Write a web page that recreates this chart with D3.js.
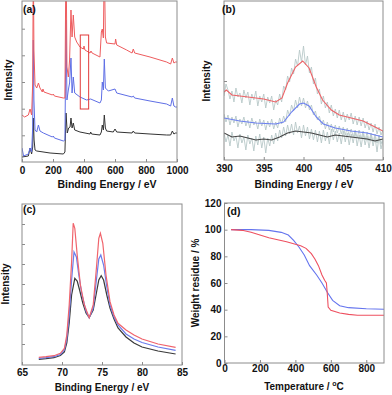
<!DOCTYPE html>
<html>
<head>
<meta charset="utf-8">
<script src="https://cdn.jsdelivr.net/npm/d3@7"></script>
<style>
body { margin: 0; background: #fff; }
text { font-family: "Liberation Sans", Arial, sans-serif; font-weight: bold; fill: #111; }
</style>
</head>
<body>
<svg id="fig" width="392" height="395"></svg>
<script>
// (a) survey spectra, [binding energy eV, intensity a.u.]
var surveyBlack = [[0,5],[41,6],[52,14],[62,8],[69,15],[73,44],[78,22],[84,12],[95,11],[181,9],[267,8],[277,10],[284,49],[292,29],[301,34],[310,35],[316,44],[323,34],[331,39],[340,32],[374,30],[439,28],[443,30],[449,28],[503,27],[512,30],[518,37],[525,32],[531,47],[538,34],[546,31],[589,30],[600,33],[611,30],[710,29],[718,31],[727,29],[826,28],[933,27],[959,27],[970,31],[980,28],[991,29],[1000,29]];
var surveyBlue = [[0,14],[10,6],[41,8],[52,14],[62,10],[69,35],[73,122],[77,62],[84,32],[95,30],[106,37],[116,31],[138,29],[196,25],[202,26],[209,24],[267,21],[277,22],[284,142],[290,62],[299,72],[307,79],[316,104],[323,69],[331,85],[340,69],[374,65],[417,62],[443,63],[503,59],[512,62],[518,80],[525,72],[531,103],[538,74],[557,71],[600,73],[611,69],[710,65],[718,66],[727,64],[826,61],[933,58],[959,56],[970,64],[980,56],[991,55],[1000,55]];
var surveyRed = [[0,47],[17,45],[41,47],[52,53],[62,47],[69,79],[73,200],[77,112],[84,77],[95,74],[106,79],[116,74],[131,70],[135,73],[142,70],[196,67],[202,68],[209,66],[267,64],[277,64],[284,220],[290,95],[299,85],[307,102],[316,152],[323,125],[331,147],[340,125],[353,120],[374,115],[396,113],[400,116],[406,112],[439,109],[445,111],[452,109],[503,105],[512,130],[518,133],[525,124],[531,200],[538,125],[546,119],[600,118],[604,123],[611,117],[675,112],[710,109],[718,113],[727,109],[826,105],[933,100],[959,98],[970,104],[980,99],[991,100],[1000,100]];
var zoomBoxEnergy = [376, 430];
var zoomBoxLevel = [53, 127];
var surveyTicks = [0, 200, 400, 600, 800, 1000];

// (b) N 1s region: raw counts every 0.25 eV from 390 eV, plus smoothed curves
var n1sStart = 390, n1sStep = 0.25;
var n1sRawRed = [64,76,70,61,69,58,72,63,67,57,70,62,68,55,66,60,69,54,64,58,66,52,63,57,64,50,60,55,66,58,74,70,84,78,92,86,101,94,110,98,114,95,104,87,93,76,82,66,71,56,64,52,58,47,55,44,51,42,50,40,48,38,46,40,47,36,44,35,43,34,42,32,39,30,37,28,36,26,33,25,30];
var n1sRawBlue = [46,38,45,35,43,37,44,33,41,36,43,34,40,32,42,35,39,31,41,34,40,30,39,33,41,31,38,32,42,36,44,38,50,44,55,49,60,52,63,54,62,52,59,50,55,45,49,40,44,35,40,31,38,30,36,28,35,27,34,26,33,25,32,24,31,23,30,22,30,21,29,20,28,19,27,18,26,17,25,16,22];
var n1sRawBlack = [27,18,25,14,28,19,24,12,26,17,23,10,25,16,22,9,24,15,26,12,23,7,22,14,25,16,27,19,30,22,33,24,35,26,36,25,38,27,34,22,35,24,33,21,31,20,30,18,29,17,30,19,28,16,31,20,29,18,27,16,29,18,27,15,26,17,28,14,25,13,26,15,24,12,25,14,23,8,24,11,20];
var n1sRed = [[390,68],[390.3,70],[391,65],[393,63],[395,61],[396.5,58],[397.3,62],[398,77],[399,93],[399.9,99],[400.7,92],[401.6,73],[402.4,60],[403.5,50],[404.5,45],[406,42],[407.5,39],[409,33],[410,29]];
var n1sBlue = [[390,42],[392,39],[394,37],[396.5,36],[397.5,38],[398.5,48],[399.5,56],[400,57],[400.7,54],[401.6,43],[402.5,36],[404,32],[406,29],[408,27],[410,23]];
var n1sBlack = [[390,27],[391,23],[392,24],[393,22],[394,20],[395,21],[396,20],[397,23],[398,27],[399,29],[400,28],[401,27],[402,25],[403,23],[404,25],[405,24],[406,23],[407,22],[408,21],[409,19],[410,21]];
var n1sTicks = [390, 395, 400, 405, 410];

// (c) Pt 4f region
var pt4fRed = [[67.1,7.7],[68,8.3],[69,9.3],[69.8,11.7],[70.3,16.7],[70.6,30],[70.9,60],[71.2,103],[71.4,141.7],[71.6,136.7],[71.9,110],[72.3,80],[72.8,60],[73.4,47.3],[73.9,60],[74.3,96.7],[74.6,126.7],[74.8,131.7],[75.1,121.7],[75.5,90],[76,63.3],[76.5,50],[77,41.7],[78,35],[79,30],[80,26],[82,21],[84.2,17.7]];
var pt4fBlue = [[67.1,6.7],[68,7.3],[69,8.3],[69.8,10.5],[70.3,15],[70.6,26],[70.9,50],[71.2,85],[71.5,113],[71.8,108],[72.1,90],[72.5,70],[73,54],[73.4,47.3],[73.9,57],[74.3,85],[74.6,106],[74.85,110],[75.2,100],[75.6,78],[76,60],[76.5,48],[77,40],[78,31],[79,26],[80,22.5],[82,18],[84.2,14.7]];
var pt4fBlack = [[67.1,5.7],[68,6.3],[69,7.3],[69.8,9.5],[70.3,13],[70.6,22],[70.9,42],[71.2,70],[71.6,86.7],[71.9,84],[72.2,75],[72.6,62],[73,52],[73.4,47.3],[73.9,55],[74.3,72],[74.6,85],[74.9,89.3],[75.2,85],[75.6,70],[76,57],[76.5,46],[77,37],[78,28],[79,22],[80,18],[82,14],[84.2,11]];
var pt4fTicks = [65, 70, 75, 80, 85];

// (d) TGA, [temperature C, weight residue %]
var tgaRed = [[37,100],[100,99.5],[150,98],[200,96],[250,94],[300,92.5],[350,91],[400,89],[430,88],[460,86],[490,82],[510,78],[530,73],[550,66],[565,62],[575,60],[580,52],[585,42],[600,39.5],[650,37.5],[700,36.5],[750,35.8],[800,35.8],[900,35.8]];
var tgaBlue = [[37,100],[150,100],[250,99.5],[320,98],[360,96],[390,92],[420,87],[450,81],[480,73],[520,66],[550,60],[580,53],[610,47],[650,43],[700,41.5],[800,40.7],[900,40.3]];
var tgaXTicks = [0, 200, 400, 600, 800];
var tgaYTicks = [0, 20, 40, 60, 80, 100, 120];

var red = "#ee5c5e", blue = "#5f6fe6", black = "#333333", gray = "#b8c8c8", axisColor = "#8c8c8c";

var svg = d3.select("#fig");
var clipId = 0;

function panel(x, y) {
    var x0 = x.range()[0], x1 = x.range()[1], y0 = y.range()[1], y1 = y.range()[0];
    clipId++;
    svg.append("clipPath").attr("id", "clip" + clipId)
        .append("rect").attr("x", x0).attr("y", y0).attr("width", x1 - x0).attr("height", y1 - y0);
    var g = svg.append("g").attr("clip-path", "url(#clip" + clipId + ")");
    return g;
}

function frame(x, y) {
    svg.append("rect")
        .attr("x", x.range()[0]).attr("y", y.range()[1])
        .attr("width", x.range()[1] - x.range()[0])
        .attr("height", y.range()[0] - y.range()[1])
        .attr("fill", "none").attr("stroke", axisColor).attr("stroke-width", 1);
}

function xAxis(x, y, ticks, pad) {
    var g = svg.append("g").attr("transform", "translate(0," + y.range()[0] + ")")
        .call(d3.axisBottom(x).tickValues(ticks).tickSize(-3).tickPadding(pad).tickFormat(d3.format("d")));
    g.attr("font-size", 10);
    g.select(".domain").remove();
    g.selectAll("line").attr("stroke", axisColor);
}

function yAxis(x, y, ticks, labels) {
    var g = svg.append("g").attr("transform", "translate(" + x.range()[0] + ",0)")
        .call(d3.axisLeft(y).tickValues(ticks).tickSize(-3).tickPadding(3)
            .tickFormat(labels ? d3.format("d") : ""));
    g.attr("font-size", 10);
    g.select(".domain").remove();
    g.selectAll("line").attr("stroke", axisColor);
}

function curve(g, x, y, data, color, w) {
    g.append("path").datum(data)
        .attr("d", d3.line().x(function (d) { return x(d[0]); }).y(function (d) { return y(d[1]); }))
        .attr("fill", "none").attr("stroke", color).attr("stroke-width", w);
}

function label(txt, px, py, size) {
    svg.append("text").attr("x", px).attr("y", py).attr("font-size", size).text(txt);
}

function xTitle(txt, cx, py, size) {
    return svg.append("text").attr("x", cx).attr("y", py).attr("text-anchor", "middle")
        .attr("font-size", size).text(txt);
}

function yTitle(txt, px, cy, size) {
    svg.append("text").attr("transform", "translate(" + px + "," + cy + ") rotate(-90)")
        .attr("text-anchor", "middle").attr("font-size", size).text(txt);
}

// ---- (a) ----
var xa = d3.scaleLinear().domain([0, 1000]).range([22, 177]);
var ya = d3.scaleLinear().domain([0, 161]).range([162, 1]);
var ga = panel(xa, ya);
curve(ga, xa, ya, surveyBlack, black, 1);
curve(ga, xa, ya, surveyBlue, blue, 1);
curve(ga, xa, ya, surveyRed, red, 1);
ga.append("rect")
    .attr("x", xa(zoomBoxEnergy[0])).attr("y", ya(zoomBoxLevel[1]))
    .attr("width", xa(zoomBoxEnergy[1]) - xa(zoomBoxEnergy[0]))
    .attr("height", ya(zoomBoxLevel[0]) - ya(zoomBoxLevel[1]))
    .attr("fill", "none").attr("stroke", "#e23a3a").attr("stroke-width", 1);
frame(xa, ya);
xAxis(xa, ya, surveyTicks, 5);
yAxis(xa, ya, [26.7, 53.3, 80, 106.7, 133.3], false);
label("(a)", 23, 13, 10.5);
xTitle("Binding Energy / eV", 107, 188, 10.5);
yTitle("Intensity", 11.5, 80, 10);

// ---- (b) ----
var xb = d3.scaleLinear().domain([390, 410]).range([224, 383]);
var yb = d3.scaleLinear().domain([0, 159]).range([160, 1]);
var gb = panel(xb, yb);
function rawPairs(vals) {
    return vals.map(function (v, i) { return [n1sStart + i * n1sStep, v]; });
}
curve(gb, xb, yb, rawPairs(n1sRawBlack), gray, 0.9);
curve(gb, xb, yb, rawPairs(n1sRawBlue), gray, 0.9);
curve(gb, xb, yb, rawPairs(n1sRawRed), gray, 0.9);
curve(gb, xb, yb, n1sBlack, "#444444", 1.1);
curve(gb, xb, yb, n1sBlue, "#6b7ff0", 1.1);
curve(gb, xb, yb, n1sRed, "#ee6266", 1.1);
frame(xb, yb);
xAxis(xb, yb, n1sTicks, 5);
yAxis(xb, yb, [79], false);
label("(b)", 222, 13, 10.5);
xTitle("Binding Energy / eV", 304, 188, 10.5);
yTitle("Intensity", 209.5, 81, 10);

// ---- (c) ----
var xc = d3.scaleLinear().domain([65, 85]).range([22, 182]);
var yc = d3.scaleLinear().domain([0, 161]).range([365, 204]);
var gc = panel(xc, yc);
curve(gc, xc, yc, pt4fBlack, "#3a3a3a", 1.2);
curve(gc, xc, yc, pt4fBlue, "#6a7cec", 1.2);
curve(gc, xc, yc, pt4fRed, "#f0646c", 1.2);
frame(xc, yc);
xAxis(xc, yc, pt4fTicks, 3.5);
yAxis(xc, yc, [21, 41, 61, 81, 101, 121, 141], false);
label("(c)", 23, 213, 10.5);
xTitle("Binding Energy / eV", 102, 391, 10);
yTitle("Intensity", 9, 284, 10);

// ---- (d) ----
var xd = d3.scaleLinear().domain([0, 900]).range([224.5, 384]);
var yd = d3.scaleLinear().domain([0, 120]).range([363, 203]);
var gd = panel(xd, yd);
curve(gd, xd, yd, tgaBlue, "#6474ee", 1.1);
curve(gd, xd, yd, tgaRed, "#ee5060", 1.1);
frame(xd, yd);
xAxis(xd, yd, tgaXTicks, 1.5);
yAxis(xd, yd, tgaYTicks, true);
label("(d)", 227, 215, 10.5);
var td = xTitle("Temperature / ", 304, 390, 10);
td.append("tspan").attr("dy", -4).attr("font-size", 7).text("o");
td.append("tspan").attr("dy", 4).text("C");
yTitle("Weight residue / %", 199, 283, 10);
</script>
</body>
</html>
